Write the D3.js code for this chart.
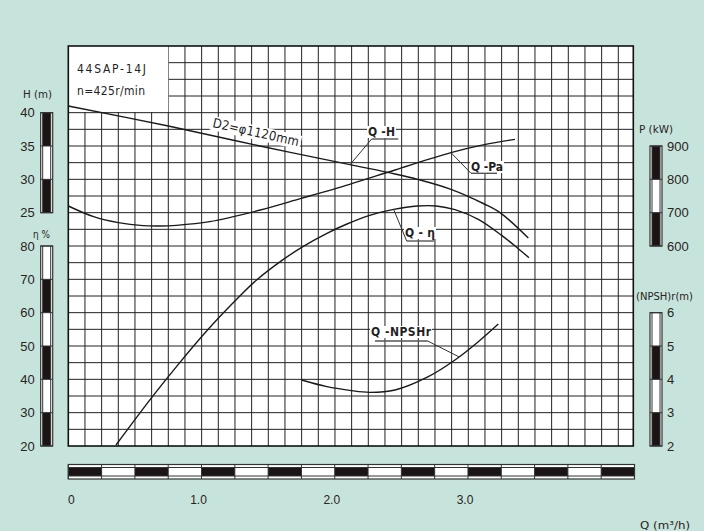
<!DOCTYPE html>
<html><head><meta charset="utf-8">
<script src="https://cdn.jsdelivr.net/npm/d3@7"></script>
<style>
html,body{margin:0;padding:0;background:#c6e3dc;}
svg{display:block;}
</style></head>
<body>
<script>
// ---------- data ----------
const qH   = [0, 0.75, 1.4375, 2.113, 2.45, 2.62, 2.87, 3.12, 3.245, 3.45];
const headH = [41.0, 38.0, 35.0, 32.2, 30.8, 30.0, 28.5, 26.3, 24.9, 21.2];

const qP   = [0, 0.19, 0.375, 0.56, 0.69, 0.81, 1.06, 1.44, 1.74, 2.11, 2.45, 2.87, 3.12, 3.35];
const powerP = [720, 688, 670, 661, 660, 662, 673, 708, 742, 785, 828, 880, 904, 920];

const qEta = [0.358, 0.625, 0.825, 1.0375, 1.2625, 1.4125, 1.6, 1.75, 1.94, 2.09, 2.26, 2.44, 2.62, 2.76, 2.9, 3.075, 3.25, 3.375, 3.455];
const effEta = [20.3, 34.5, 44.5, 54.5, 64.0, 69.8, 75.6, 79.6, 83.8, 86.6, 89.2, 91.0, 92.0, 92.0, 90.9, 88.0, 83.2, 79.2, 76.5];

const qN   = [1.75, 1.94, 2.11, 2.26, 2.45, 2.7, 2.9, 3.075, 3.225];
const npshN = [3.98, 3.78, 3.67, 3.61, 3.68, 4.08, 4.58, 5.13, 5.66];

const qTicks = [0, 1, 2, 3];
const qTickLabels = ["0", "1.0", "2.0", "3.0"];
const hTicks = [25, 30, 35, 40];
const etaTicks = [20, 30, 40, 50, 60, 70, 80];
const pTicks = [600, 700, 800, 900];
const nTicks = [2, 3, 4, 5, 6];

// annotation anchor points (Q on curve)
const labelQH = 2.113, labelQP = 2.87, labelQEta = 2.44, labelQN = 2.93;

// ---------- layout ----------
const W = 704, Hh = 531;
const L = 68.3, R = 633.3, T = 46, B = 446;
const x = d3.scaleLinear().domain([0, 4.2375]).range([L, R]);
const yH = d3.scaleLinear().domain([-10, 50]).range([B, T]);
const yE = d3.scaleLinear().domain([20, 140]).range([B, T]);
const yP = d3.scaleLinear().domain([0, 1200]).range([B, T]);
const yN = d3.scaleLinear().domain([2, 14]).range([B, T]);
const xBar = d3.scaleLinear().domain([0, 4.25]).range([L, 634.5]);

const svg = d3.select("body").append("svg").attr("width", W).attr("height", Hh);
svg.append("rect").attr("width", W).attr("height", Hh).attr("fill", "#c6e3dc");

const ink = "#1f1f1f";
const numFont = "'Liberation Sans', Arial, sans-serif";
const lblFont = "'Liberation Sans Narrow','DejaVu Sans Condensed','Liberation Sans',sans-serif";

// plot background
svg.append("rect").attr("x", L).attr("y", T).attr("width", R - L).attr("height", B - T).attr("fill", "#fff");

// grid
const grid = svg.append("g").attr("stroke", "#222").attr("stroke-width", 1);
d3.range(0.125, 4.2375 - 0.01, 0.125).forEach(q => {
  grid.append("line").attr("x1", x(q)).attr("x2", x(q)).attr("y1", T).attr("y2", B);
});
d3.range(-7.5, 50 - 0.01, 2.5).forEach(h => {
  grid.append("line").attr("x1", L).attr("x2", R).attr("y1", yH(h)).attr("y2", yH(h));
});

// title box (covers grid)
svg.append("rect").attr("x", L).attr("y", T).attr("width", x(0.75) - L).attr("height", 66).attr("fill", "#fff");
svg.append("text").attr("x", 77).attr("y", 73).attr("font-family", lblFont).attr("font-size", 12)
  .attr("fill", ink).attr("textLength", 69).attr("lengthAdjust", "spacing").text("44SAP-14J");
svg.append("text").attr("x", 77).attr("y", 95).attr("font-family", lblFont).attr("font-size", 12)
  .attr("fill", ink).attr("textLength", 68).attr("lengthAdjust", "spacing").text("n=425r/min");

// curves
const line = (xs, ys, ysc) => d3.line().curve(d3.curveCatmullRom.alpha(0.5))
  .x((d, i) => x(xs[i])).y((d, i) => ysc(ys[i]))(xs);
const curves = svg.append("g").attr("fill", "none").attr("stroke", "#1a1a1a").attr("stroke-width", 1.4);
curves.append("path").attr("d", line(qH, headH, yH));
curves.append("path").attr("d", line(qP, powerP, yP));
curves.append("path").attr("d", line(qEta, effEta, yE));
curves.append("path").attr("d", line(qN, npshN, yN));

// D2 label along Q-H
const d2 = svg.append("g").attr("transform", "translate(212,127) rotate(12.6)");
d2.append("rect").attr("x", -2).attr("y", -11).attr("width", 92).attr("height", 14).attr("fill", "#fff");
d2.append("text").attr("x", 0).attr("y", 0).attr("font-family", lblFont).attr("font-size", 13)
  .attr("fill", ink).attr("textLength", 88).attr("lengthAdjust", "spacing").text("D2=\u03c61120mm");

// interpolate curve y at q
function interp(xs, ys, q) { return d3.scaleLinear().domain(xs).range(ys)(q); }

// curve labels with leaders
function curveLabel(txt, tx, ty, tw, ux1, ux2, uy, lx, ly, px, py) {
  const g = svg.append("g");
  g.append("rect").attr("x", tx - 1).attr("y", ty - 10).attr("width", tw + 2).attr("height", 12).attr("fill", "#fff");
  g.append("text").attr("x", tx).attr("y", ty).attr("font-family", lblFont).attr("font-size", 12)
    .attr("font-weight", "bold").attr("fill", ink).attr("textLength", tw).attr("lengthAdjust", "spacing").text(txt);
  g.append("line").attr("x1", ux1).attr("x2", ux2).attr("y1", uy).attr("y2", uy).attr("stroke", "#555").attr("stroke-width", 1.4);
  g.append("line").attr("x1", lx).attr("y1", ly).attr("x2", px).attr("y2", py).attr("stroke", "#333").attr("stroke-width", 1);
}
curveLabel("Q -H", 368, 136, 27, 371.7, 398.3, 139, 371.7, 139, x(labelQH), yH(interp(qH, headH, labelQH)));
curveLabel("Q -Pa", 471, 171, 32, 471, 497, 173.3, 471, 173.3, x(labelQP), yP(interp(qP, powerP, labelQP)));
curveLabel("Q - \u03b7", 405, 237, 30, 406.7, 434.3, 241, 406.7, 241, x(labelQEta), yE(interp(qEta, effEta, labelQEta)));
curveLabel("Q -NPSHr", 371, 336, 60, 375, 427.7, 341, 427.7, 341, x(labelQN), yN(interp(qN, npshN, labelQN)));

// plot border
svg.append("rect").attr("x", L).attr("y", T).attr("width", R - L).attr("height", B - T)
  .attr("fill", "none").attr("stroke", "#111").attr("stroke-width", 1.6);

// ---------- scale bars ----------
function vBar(x0, scale, ticks, blackFirst, labelSide) {
  const g = svg.append("g");
  const y0 = scale(ticks[0]), y1 = scale(ticks[ticks.length - 1]);
  const w = 12;
  g.append("rect").attr("x", x0).attr("y", y1).attr("width", w).attr("height", y0 - y1).attr("fill", "#fff");
  for (let i = 0; i < ticks.length - 1; i++) {
    const a = scale(ticks[i]), b = scale(ticks[i + 1]);
    const black = (i % 2 === 0) === blackFirst;
    if (black) g.append("rect").attr("x", x0 + 2).attr("y", b).attr("width", w - 4).attr("height", a - b).attr("fill", "#1a1414");
  }
  g.append("line").attr("x1", x0 + 2).attr("x2", x0 + 2).attr("y1", y1).attr("y2", y0).attr("stroke", "#333").attr("stroke-width", 1);
  g.append("line").attr("x1", x0 + w - 2).attr("x2", x0 + w - 2).attr("y1", y1).attr("y2", y0).attr("stroke", "#333").attr("stroke-width", 1);
  ticks.forEach(t => g.append("line").attr("x1", x0).attr("x2", x0 + w).attr("y1", scale(t)).attr("y2", scale(t)).attr("stroke", "#333").attr("stroke-width", 1));
  g.append("rect").attr("x", x0).attr("y", y1).attr("width", w).attr("height", y0 - y1).attr("fill", "none").attr("stroke", "#333").attr("stroke-width", 1.2);
  ticks.forEach(t => {
    g.append("text").attr("x", labelSide === "left" ? x0 - 6 : x0 + 17).attr("y", scale(t))
      .attr("dy", "0.35em").attr("text-anchor", labelSide === "left" ? "end" : "start")
      .attr("font-family", numFont).attr("font-size", 13).attr("fill", "#2a2420").text(t);
  });
}
vBar(40.7, yH, hTicks, true, "left");
vBar(40.7, yE, etaTicks, true, "left");
vBar(650, yP, pTicks, true, "right");
vBar(650, yN, nTicks, true, "right");

// axis titles
function title(txt, tx, ty, tw, size) {
  svg.append("text").attr("x", tx).attr("y", ty).attr("font-family", lblFont).attr("font-size", size || 11)
    .attr("fill", "#2a2420").attr("textLength", tw).attr("lengthAdjust", "spacingAndGlyphs").text(txt);
}
title("H (m)", 23, 98, 29);
title("\u03b7 %", 33, 238, 17);
title("P (kW)", 639, 133, 34);
title("(NPSH)r(m)", 636, 300, 57);

// ---------- bottom bar ----------
const bb = svg.append("g");
const by0 = 464.5, by1 = 479;
const segs = d3.range(0, 4.25 - 0.001, 0.25);
bb.append("rect").attr("x", xBar(0)).attr("y", by0).attr("width", xBar(4.25) - xBar(0)).attr("height", by1 - by0).attr("fill", "#fff");
segs.forEach((s, i) => {
  if (i % 2 === 0) bb.append("rect").attr("x", xBar(s)).attr("y", by0 + 3).attr("width", xBar(s + 0.25) - xBar(s)).attr("height", by1 - by0 - 6).attr("fill", "#1a1414");
  bb.append("line").attr("x1", xBar(s)).attr("x2", xBar(s)).attr("y1", by0).attr("y2", by1).attr("stroke", "#333");
});
bb.append("line").attr("x1", xBar(0)).attr("x2", xBar(4.25)).attr("y1", by0 + 3).attr("y2", by0 + 3).attr("stroke", "#333");
bb.append("line").attr("x1", xBar(0)).attr("x2", xBar(4.25)).attr("y1", by1 - 3).attr("y2", by1 - 3).attr("stroke", "#333");
bb.append("rect").attr("x", xBar(0)).attr("y", by0).attr("width", xBar(4.25) - xBar(0)).attr("height", by1 - by0)
  .attr("fill", "none").attr("stroke", "#333").attr("stroke-width", 1.2);
qTicks.forEach((q, i) => {
  bb.append("text").attr("x", xBar(q) + (i === 0 ? 3 : -3)).attr("y", 504).attr("text-anchor", "middle")
    .attr("font-family", numFont).attr("font-size", 12).attr("fill", "#2a2420").text(qTickLabels[i]);
});
title("Q (m\u00b3/h)", 640, 529, 50, 10);
</script>
</body></html>
